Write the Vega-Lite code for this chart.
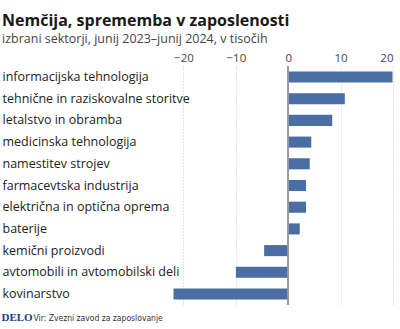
{
  "$schema": "https://vega.github.io/schema/vega-lite/v6.json",
  "autosize": {"type": "none"},
  "width": 220,
  "height": 239,
  "padding": {"left": 173, "top": 66, "right": 7, "bottom": 24},
  "background": "white",
  "title": {
    "text": "Nemčija, sprememba v zaposlenosti",
    "subtitle": "izbrani sektorji, junij 2023–junij 2024, v tisočih",
    "anchor": "start",
    "frame": "group",
    "dx": -171,
    "offset": 7,
    "font": "Open Sans",
    "fontSize": 16,
    "fontWeight": "bold",
    "color": "#1a1a1a",
    "subtitleFont": "Open Sans",
    "subtitleFontSize": 12.5,
    "subtitleColor": "#444444",
    "subtitlePadding": 4
  },
  "data": {
    "values": [
      {"sektor": "informacijska tehnologija", "v": 19.9},
      {"sektor": "tehnične in raziskovalne storitve", "v": 10.8},
      {"sektor": "letalstvo in obramba", "v": 8.4},
      {"sektor": "medicinska tehnologija", "v": 4.4},
      {"sektor": "namestitev strojev", "v": 4.1},
      {"sektor": "farmacevtska industrija", "v": 3.4},
      {"sektor": "električna in optična oprema", "v": 3.4},
      {"sektor": "baterije", "v": 2.2},
      {"sektor": "kemični proizvodi", "v": -4.6},
      {"sektor": "avtomobili in avtomobilski deli", "v": -10.0},
      {"sektor": "kovinarstvo", "v": -21.9}
    ]
  },
  "layer": [
    {
      "mark": {"type": "bar", "color": "#4a6da3"},
      "encoding": {
        "y": {
          "field": "sektor",
          "type": "nominal",
          "sort": null,
          "scale": {"paddingInner": 0.49, "paddingOuter": 0.25},
          "axis": {
            "title": "DELO",
            "titleFont": "Liberation Serif",
            "titleFontWeight": "bold",
            "titleFontSize": 11,
            "titleColor": "#1d3c7c",
            "titleAngle": 0,
            "titleAlign": "left",
            "titleBaseline": "middle",
            "titleX": -172,
            "titleY": 251,
            "labelAlign": "left",
            "labelPadding": 171,
            "labelLimit": 300,
            "labelFont": "Open Sans",
            "labelFontSize": 12.5,
            "labelColor": "#222222",
            "ticks": false,
            "domain": false,
            "grid": false
          }
        },
        "x": {
          "field": "v",
          "type": "quantitative",
          "scale": {"domain": [-22, 20], "nice": false},
          "axis": {
            "orient": "top",
            "title": null,
            "values": [-20, -10, 0, 10, 20],
            "labelFont": "Open Sans",
            "labelFontSize": 11.5,
            "labelColor": "#444444",
            "labelPadding": 3,
            "ticks": false,
            "domain": false,
            "grid": true,
            "gridColor": "#c8c8c8",
            "gridDash": [1, 2],
            "gridWidth": 1
          }
        }
      }
    },
    {
      "mark": {"type": "rule", "color": "#999999", "strokeWidth": 1},
      "encoding": {
        "x": {
          "datum": 0,
          "type": "quantitative",
          "axis": {
            "orient": "bottom",
            "labels": false,
            "ticks": false,
            "domain": false,
            "grid": false,
            "title": "Vir: Zvezni zavod za zaposlovanje",
            "titleFont": "DejaVu Sans Condensed",
            "titleFontWeight": "normal",
            "titleFontSize": 8.5,
            "titleColor": "#333333",
            "titleAnchor": "start",
            "titleAlign": "left",
            "titleBaseline": "middle",
            "titleX": -140,
            "titleY": 12
          }
        }
      }
    }
  ],
  "resolve": {"axis": {"x": "independent"}},
  "config": {"view": {"stroke": null}}
}
